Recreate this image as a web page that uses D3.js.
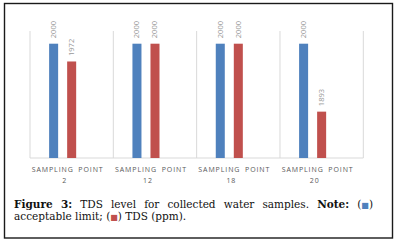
<!DOCTYPE html>
<html>
<head>
<script src="https://d3js.org/d3.v7.min.js"></script>
<style>
  body { margin: 0; background: #fff; }
  svg { display: block; }
</style>
</head>
<body>
<script>
const w = 400
const h = 244
// chart data
const categories = ["2", "12", "18", "20"]
const series = ["limit", "tds", "blank"]
const limitValues = [2000, 2000, 2000, 2000]
const tdsValues = [1972, 2000, 2000, 1893]
const seriesColors = { limit: "#4f81bd", tds: "#c0504d" }
const yDomain = [1820, 2020]

const svg = d3.select("body").append("svg")
    .attr("width", w)
    .attr("height", h)

// frame round the whole figure
svg.append("rect")
    .attr("x", 4.5).attr("y", 3.5)
    .attr("width", 388).attr("height", 234.5)
    .attr("fill", "none")
    .attr("stroke", "#1a1a1a")
    .attr("stroke-width", 1.4)

const x0 = d3.scaleBand().domain(categories).range([30, 363.3])
const x1 = d3.scaleBand().domain(series).range([0, x0.bandwidth()])
    .paddingInner(0.5).paddingOuter(1.06)
const y = d3.scaleLinear().domain(yDomain).range([158, 31])

// vertical gridlines at the band edges
const edges = categories.map(c => x0(c)).concat([x0.range()[1]])
svg.selectAll(".grid").data(edges).enter().append("line")
    .attr("x1", d => d).attr("x2", d => d)
    .attr("y1", y(yDomain[1])).attr("y2", y(yDomain[0]))
    .attr("stroke", "#d9d9d9").attr("stroke-width", 1)
svg.append("line")
    .attr("x1", x0.range()[0]).attr("x2", x0.range()[1])
    .attr("y1", y(yDomain[0])).attr("y2", y(yDomain[0]))
    .attr("stroke", "#d9d9d9")

const rows = []
categories.forEach((c, i) => {
    rows.push({ cat: c, key: "limit", value: limitValues[i] })
    rows.push({ cat: c, key: "tds", value: tdsValues[i] })
})

svg.selectAll(".bar").data(rows).enter().append("rect")
    .attr("x", d => x0(d.cat) + x1(d.key))
    .attr("y", d => y(d.value))
    .attr("width", x1.bandwidth())
    .attr("height", d => y(yDomain[0]) - y(d.value))
    .attr("fill", d => seriesColors[d.key])

// value labels, rotated
svg.selectAll(".lab").data(rows).enter().append("text")
    .attr("transform", d => `translate(${x0(d.cat) + x1(d.key) + x1.bandwidth() / 2 + 2.5}, ${y(d.value) - 5.5}) rotate(-90)`)
    .attr("font-family", "Open Sans, sans-serif")
    .attr("font-size", 7.5)
    .attr("fill", "#999")
    .text(d => d.value)

// category labels
const catG = svg.selectAll(".cat").data(categories).enter().append("g")
    .attr("transform", d => `translate(${x0(d) + x0.bandwidth() / 2 - 4}, 0)`)
catG.append("text")
    .attr("y", 172)
    .attr("text-anchor", "middle")
    .attr("font-family", "Open Sans, sans-serif")
    .attr("font-size", 7)
    .attr("letter-spacing", 0.9)
    .attr("word-spacing", 2)
    .attr("fill", "#595959")
    .text("SAMPLING POINT")
catG.append("text")
    .attr("y", 183)
    .attr("x", -3)
    .attr("text-anchor", "middle")
    .attr("font-family", "Open Sans, sans-serif")
    .attr("font-size", 7)
    .attr("letter-spacing", 0.9)
    .attr("fill", "#595959")
    .text(d => d)

// caption
const cap = svg.append("g")
    .attr("font-family", "DejaVu Serif, serif")
    .attr("font-size", 10.5)
    .attr("fill", "#111")
const line1 = cap.append("text").attr("x", 14).attr("y", 208)
line1.append("tspan").attr("font-weight", "bold").text("Figure 3:")
line1.append("tspan").text(" TDS level for collected water samples. ")
line1.append("tspan").attr("font-weight", "bold").text("Note:")
line1.append("tspan").text(" (")
line1.append("tspan").attr("fill", seriesColors.limit).attr("font-family", "DejaVu Sans").attr("font-size", 8).text("■")
line1.append("tspan").text(")")
// justify the first line
const target = 373 - 14
const len = line1.node().getComputedTextLength()
line1.attr("word-spacing", (target - len) / 9)

const line2 = cap.append("text").attr("x", 14).attr("y", 219.5)
line2.append("tspan").text("acceptable limit; (")
line2.append("tspan").attr("fill", seriesColors.tds).attr("font-family", "DejaVu Sans").attr("font-size", 8).text("■")
line2.append("tspan").text(") TDS (ppm).")
</script>
</body>
</html>
